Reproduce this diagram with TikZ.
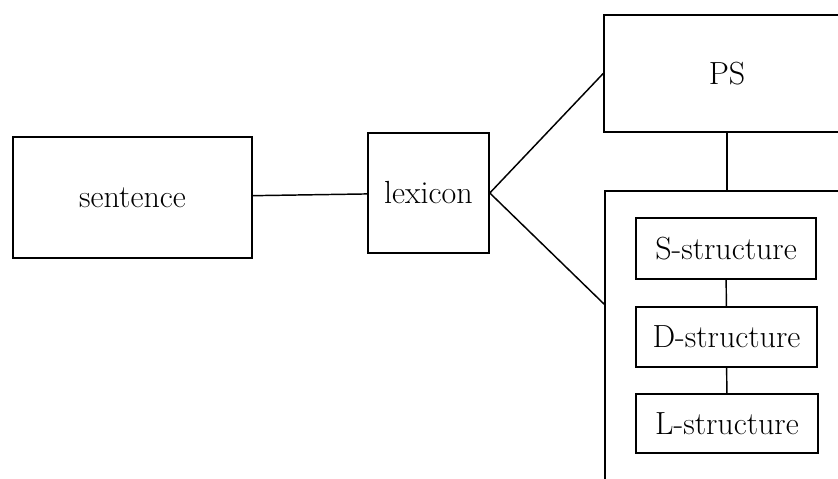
\documentclass[tikz,border=0pt]{standalone}
\usepackage{fontspec}
\usepackage{tikz}

\begin{document}
\begin{tikzpicture}[x=0.75pt,y=0.75pt,yscale=-1,xscale=1,
	box/.style={draw, line width=1.2pt, inner sep=0.75pt, font=\fontsize{24}{28}\selectfont},
	link/.style={line width=1.1pt}]
	%set diagram: 838 wide, 478 high
	\useasboundingbox (0,0) rectangle (838,478);
	\clip (0,0) rectangle (838,478);
	
	% Left side
	\node [box, minimum width=179.25pt, minimum height=90.75pt] (sentence) at (132.5,197.5) {sentence};
	\node [box, minimum width=90.75pt, minimum height=90pt] (lexicon) at (428.5,193) {lexicon};
	
	% Right side, cut off by the edge
	\node [box, minimum width=184.5pt, minimum height=87.75pt] (PS) at (727,73.5) {PS};
	\node [box, minimum width=198pt, minimum height=231pt] (grammar) at (737,345) {};
	
	% Inner boxes
	\node [box, minimum width=135pt, minimum height=45.75pt] (sstruct) at (726,248.5) {S-structure};
	\node [box, minimum width=135.5pt, minimum height=45pt] (dstruct) at (726.5,337) {D-structure};
	\node [box, minimum width=136.5pt, minimum height=44.25pt] (lstruct) at (727,423.5) {L-structure};
	
	% Straight Lines
	\draw [link] (sentence) -- (lexicon);
	\draw [link] (lexicon.east) -- (PS.west);
	\draw [link] (lexicon.east) -- ([yshift=85.5pt]grammar.north west);
	\draw [link] (PS.south) -- (PS.south |- grammar.north);
	\draw [link] (sstruct) -- (dstruct);
	\draw [link] (dstruct) -- (lstruct);
	
\end{tikzpicture}
\end{document}
